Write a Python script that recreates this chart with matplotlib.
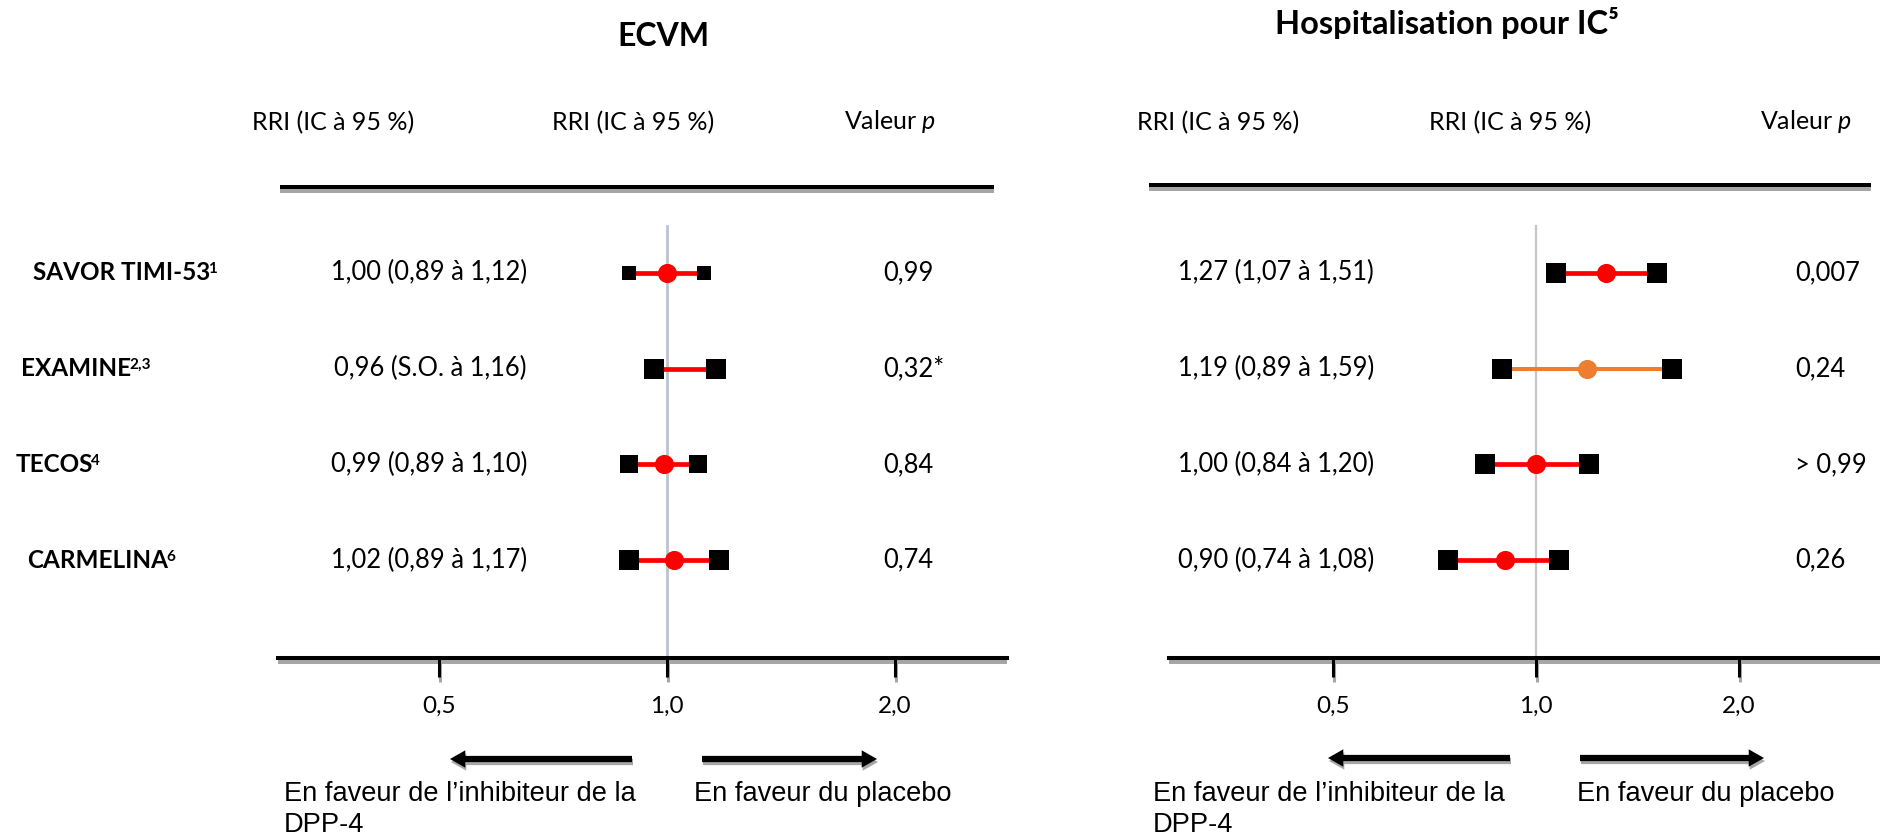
import matplotlib.pyplot as plt
import matplotlib.transforms as mtransforms
from matplotlib.patches import FancyArrowPatch
from matplotlib.lines import Line2D
from matplotlib.ticker import NullLocator

plt.rcParams['font.family'] = ['Lato', 'DejaVu Sans']
plt.rcParams['mathtext.fontset'] = 'custom'
plt.rcParams['mathtext.rm'] = 'Lato'
plt.rcParams['mathtext.it'] = 'Lato:italic'

# data
trials = ['SAVOR TIMI-53', 'EXAMINE', 'TECOS', 'CARMELINA']
trial_refs = ['1', '2,3', '4', '6']

mace_hr = [1.00, 0.96, 0.99, 1.02]
mace_lo = [0.89, None, 0.89, 0.89]   # None = S.O.
mace_hi = [1.12, 1.16, 1.10, 1.17]
mace_p = ['0,99', '0,32*', '0,84', '0,74']

hf_hr = [1.27, 1.19, 1.00, 0.90]
hf_lo = [1.07, 0.89, 0.84, 0.74]
hf_hi = [1.51, 1.59, 1.20, 1.08]
hf_p = ['0,007', '0,24', '> 0,99', '0,26']

ticks = [0.5, 1.0, 2.0]
tick_labels = ['0,5', '1,0', '2,0']

W, H = 1880, 838
RED = '#FF0000'
ORANGE = '#ED7D31'
SHADOW = '#A6A6A6'


def fx(px):
    return px / W


def fy(py):
    return 1 - py / H


def fr(v):
    return f'{v:.2f}'.replace('.', ',')


fig = plt.figure(figsize=(W / 100, H / 100), dpi=100)
renderer = fig.canvas.get_renderer()


def rule(x0, x1, y, lw_px=4):
    # thick black rule with a grey drop shadow
    fig.add_artist(Line2D([fx(x0), fx(x1)], [fy(y + 4), fy(y + 4)],
                          color=SHADOW, lw=lw_px * 0.72, solid_capstyle='butt'))
    fig.add_artist(Line2D([fx(x0), fx(x1)], [fy(y), fy(y)],
                          color='black', lw=lw_px * 0.72, solid_capstyle='butt'))


def arrow(x_tail, x_tip, y):
    style = 'simple,head_length=1.1,head_width=1.25,tail_width=0.45'
    for dx, dy, c in [(1, 3, SHADOW), (0, 0, 'black')]:
        fig.add_artist(FancyArrowPatch((fx(x_tail + dx), fy(y + dy)), (fx(x_tip + dx), fy(y + dy)),
                                       transform=fig.transFigure, arrowstyle=style,
                                       mutation_scale=10, color=c, lw=0,
                                       shrinkA=0, shrinkB=0))


def panel(x0, x1, center_px, px_per_doubling, ref_color, ref_lw,
          hr, lo, hi, colours, sq_sizes, line_w):
    ax = fig.add_axes([fx(x0), fy(658), (x1 - x0) / W, (658 - 188) / H])
    ax.set_xscale('log', base=2)
    left = 2 ** ((x0 - center_px) / px_per_doubling)
    right = 2 ** ((x1 - center_px) / px_per_doubling)
    ax.set_xlim(left, right)
    ax.set_ylim(4.02, -0.885)
    ax.patch.set_visible(False)
    for s in ['top', 'left', 'right']:
        ax.spines[s].set_visible(False)
    ax.spines['bottom'].set_linewidth(2.9)
    ax.spines['bottom'].set_zorder(3)
    ax.set_yticks([])
    ax.set_xticks(ticks)
    ax.set_xticklabels(tick_labels)
    ax.xaxis.set_minor_locator(NullLocator())
    ax.tick_params(axis='x', direction='out', length=13.5, width=2.2,
                   pad=14, labelsize=17.5)

    # shadow under axis line and ticks
    sh = mtransforms.offset_copy(ax.transAxes, fig=fig, y=-4, units='dots')
    ax.plot([0, 1], [0, 0], transform=sh, color=SHADOW, lw=2.9,
            clip_on=False, zorder=1, solid_capstyle='butt')
    xt = mtransforms.offset_copy(ax.get_xaxis_transform(), fig=fig, x=1, units='dots')
    for t in ticks:
        ax.plot([t, t], [0, -0.05], transform=xt, color=SHADOW, lw=2.2,
                clip_on=False, zorder=1, solid_capstyle='butt')

    ax.axvline(1.0, ymin=0, ymax=(658 - 226) / 470, color=ref_color, lw=ref_lw, zorder=1)

    for i in range(len(hr)):
        start = lo[i] if lo[i] is not None else hr[i]
        ax.plot([start, hi[i]], [i, i], color=colours[i], lw=line_w[i], zorder=2,
                solid_capstyle='butt')
        ax.plot([start, hi[i]], [i, i], 's', color='black', ms=sq_sizes[i],
                mew=0, zorder=3, ls='none')
        if lo[i] is not None:
            ax.plot(hr[i], i, 'o', color=colours[i], ms=13.8, mew=0, zorder=4)
    return ax


ax1 = panel(278, 1007, 667, 228, '#BAC4CF', 2.0,
            mace_hr, mace_lo, mace_hi, [RED] * 4, [10.2, 14, 13.5, 14.2],
            [3.4] * 4)
ax2 = panel(1169, 1880, 1536, 203, '#C6C6C6', 1.6,
            hf_hr, hf_lo, hf_hi, [RED, ORANGE, RED, RED], [14.2] * 4,
            [3.4, 2.9, 3.4, 3.4])

rule(280, 994, 187)
rule(1149, 1871, 185)

# titles and column headers
fig.text(fx(663), fy(36), 'ECVM', ha='center', va='center', fontsize=23, fontweight='bold')
fig.text(fx(1447), fy(23), 'Hospitalisation pour IC\u2075', ha='center', va='center',
         fontsize=23.5, fontweight='bold')
for xc in [333, 633, 1218, 1510]:
    fig.text(fx(xc), fy(123), 'RRI (IC à 95 %)', ha='center', va='center', fontsize=18)
for xc in [890, 1806]:
    fig.text(fx(xc), fy(121), 'Valeur $p$', ha='center', va='center', fontsize=18)

# row labels (with reference superscripts), values, p values
label_x = [33, 21, 16, 27]
t1 = mtransforms.blended_transform_factory(fig.transFigure, ax1.transData)
t2 = mtransforms.blended_transform_factory(fig.transFigure, ax2.transData)
for i, name in enumerate(trials):
    lab = fig.text(fx(label_x[i]), i, name, transform=t1, ha='left',
                   va='center', fontsize=17.5, fontweight='bold')
    bb = lab.get_window_extent(renderer)
    fig.text((bb.x1 - 2) / W, (bb.y1 - 1) / H, trial_refs[i], ha='left', va='top',
             fontsize=11, fontweight='bold')
    lo1 = fr(mace_lo[i]) if mace_lo[i] is not None else 'S.O.'
    fig.text(fx(527), i, f'{fr(mace_hr[i])} ({lo1} à {fr(mace_hi[i])})', transform=t1,
             ha='right', va='center', fontsize=18.4)
    fig.text(fx(883), i, mace_p[i], transform=t1, ha='left', va='center', fontsize=18.4)
    fig.text(fx(1374), i, f'{fr(hf_hr[i])} ({fr(hf_lo[i])} à {fr(hf_hi[i])})', transform=t2,
             ha='right', va='center', fontsize=18.4)
    fig.text(fx(1795), i, hf_p[i], transform=t2, ha='left', va='center', fontsize=18.4)

# direction arrows and captions
arrow(632, 450, 759)
arrow(702, 877, 759)
arrow(1510, 1328, 758)
arrow(1580, 1764, 758)
for xl, xr in [(284, 694), (1153, 1577)]:
    fig.text(fx(xl), fy(794), 'En faveur de l\u2019inhibiteur de la', ha='left', va='center',
             fontsize=19.6, family='Liberation Sans')
    fig.text(fx(xl), fy(825), 'DPP-4', ha='left', va='center',
             fontsize=19.6, family='Liberation Sans')
    fig.text(fx(xr), fy(794), 'En faveur du placebo', ha='left', va='center',
             fontsize=19.6, family='Liberation Sans')

fig.savefig('out.png', dpi=100)
